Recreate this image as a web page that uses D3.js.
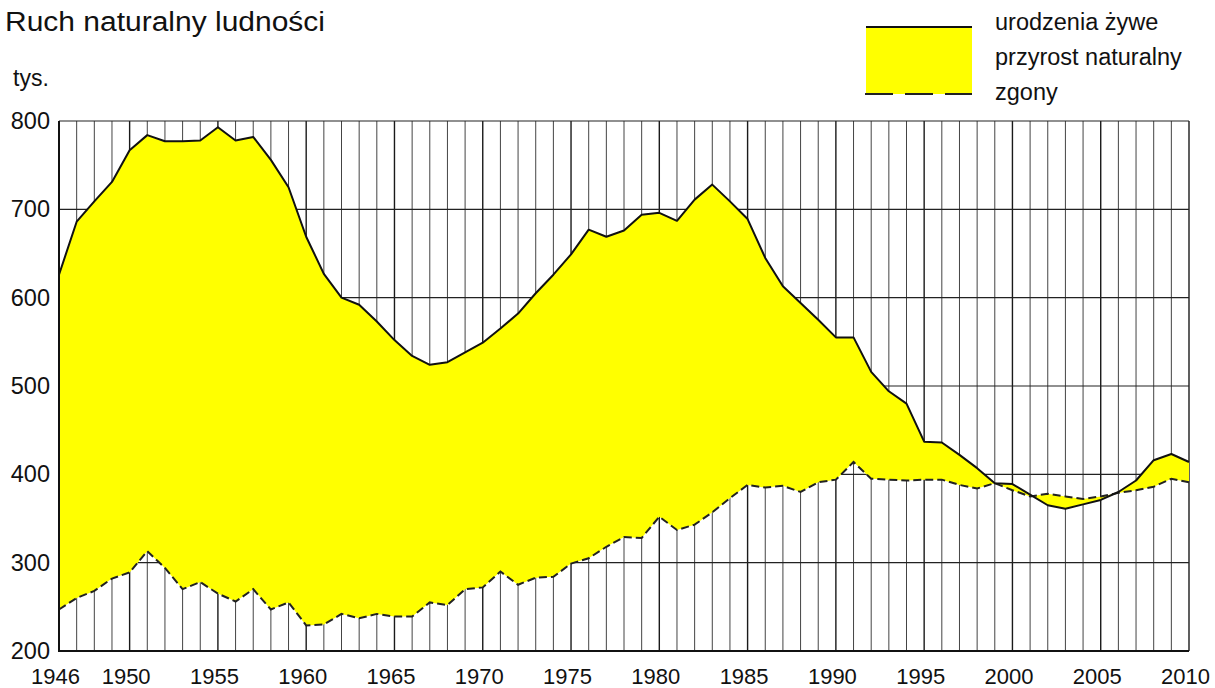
<!DOCTYPE html>
<html>
<head>
<meta charset="utf-8">
<script src="https://cdn.jsdelivr.net/npm/d3@7"></script>
<style>
  body { margin: 0; background: #fff; }
  svg { display: block; font-family: "Liberation Sans", Arial, sans-serif; }
  .grid-year { stroke: #444; stroke-width: 1; }
  .grid-five { stroke: #1a1a1a; stroke-width: 1.4; }
  .grid-h { stroke: #222; stroke-width: 1.2; }
  .area { fill: #ffff00; }
  .births { fill: none; stroke: #111; stroke-width: 2; stroke-linejoin: round; }
  .deaths { fill: none; stroke: #222; stroke-width: 2; stroke-dasharray: 8,4; }
  .tick text { font-family: "Liberation Sans", Arial, sans-serif; font-size: 22px; fill: #111; }
  .y-axis .tick text { font-size: 23.5px; }
</style>
</head>
<body>
<div id="chart"></div>
<script>
// lata 1946-2010
var years = d3.range(1946, 2011);

// urodzenia żywe (tys.)
var births = [626, 686, 709, 731, 767, 784, 777, 777, 778, 793,
              778, 782, 756, 725, 669, 627, 600, 592, 573, 552,
              534, 524, 527, 538, 549, 565, 582, 605, 626, 649,
              677, 669, 676, 694, 696, 687, 711, 728, 709, 689,
              645, 613, 594, 575, 555, 555, 516, 494, 480, 437,
              436, 422, 407, 390, 389, 377, 365, 361, 366, 371,
              380, 393, 416, 423, 414];

// zgony (tys.)
var deaths = [247, 260, 268, 282, 289, 313, 294, 270, 278, 265,
              256, 270, 247, 255, 229, 230, 242, 237, 242, 239,
              239, 255, 252, 270, 272, 290, 275, 283, 284, 299,
              305, 318, 329, 328, 352, 337, 343, 357, 373, 388,
              385, 387, 380, 391, 394, 414, 395, 394, 393, 394,
              394, 388, 384, 390, 382, 375, 378, 375, 372, 375,
              379, 382, 386, 395, 391];

var xTickLabels = [1946, 1950, 1955, 1960, 1965, 1970, 1975, 1980,
                   1985, 1990, 1995, 2000, 2005, 2010];
var yTickLabels = [200, 300, 400, 500, 600, 700, 800];

var legendLabels = ["urodzenia żywe", "przyrost naturalny", "zgony"];

var width = 1215, height = 688;
var plotLeft = 59, plotRight = 1189, plotTop = 121, plotBottom = 651;

var svg = d3.select("#chart").append("svg")
        .attr("width", width)
        .attr("height", height);

var x = d3.scaleLinear().domain([1946, 2010]).range([plotLeft, plotRight]);
var y = d3.scaleLinear().domain([200, 800]).range([plotBottom, plotTop]);

// siatka pionowa (co rok, mocniej co 5 lat)
svg.append("g").selectAll("line")
    .data(years).enter()
    .append("line")
        .attr("class", function(d) { return d % 5 === 0 ? "grid-five" : "grid-year"; })
        .attr("x1", function(d) { return x(d); })
        .attr("x2", function(d) { return x(d); })
        .attr("y1", y(800))
        .attr("y2", y(200));

// siatka pozioma
svg.append("g").selectAll("line")
    .data(yTickLabels).enter()
    .append("line")
        .attr("class", "grid-h")
        .attr("x1", x(1946))
        .attr("x2", x(2010))
        .attr("y1", function(d) { return y(d); })
        .attr("y2", function(d) { return y(d); });

var rows = years.map(function(yr, i) {
    return { year: yr, b: births[i], z: deaths[i] };
});

// obszar między urodzeniami a zgonami
var area = d3.area()
        .x(function(d) { return x(d.year); })
        .y0(function(d) { return y(d.z); })
        .y1(function(d) { return y(d.b); });

svg.append("path")
        .datum(rows)
        .attr("class", "area")
        .attr("d", area);

var birthLine = d3.line()
        .x(function(d) { return x(d.year); })
        .y(function(d) { return y(d.b); });

var deathLine = d3.line()
        .x(function(d) { return x(d.year); })
        .y(function(d) { return y(d.z); });

svg.append("path").datum(rows).attr("class", "deaths").attr("d", deathLine);
svg.append("path").datum(rows).attr("class", "births").attr("d", birthLine);

// ramka: oś lewa i dolna
svg.append("line")
        .attr("x1", plotLeft).attr("x2", plotLeft)
        .attr("y1", plotTop).attr("y2", plotBottom + 1)
        .attr("stroke", "#111").attr("stroke-width", 2);
svg.append("line")
        .attr("x1", plotLeft).attr("x2", plotRight)
        .attr("y1", plotBottom).attr("y2", plotBottom)
        .attr("stroke", "#111").attr("stroke-width", 2);

// opisy osi
var yAxis = d3.axisLeft(y).tickValues(yTickLabels).tickSize(0).tickPadding(9)
        .tickFormat(d3.format("d"));
svg.append("g")
        .attr("class", "y-axis")
        .attr("transform", "translate(" + plotLeft + ",0)")
        .call(yAxis)
        .call(function(g) { g.select(".domain").remove(); });

var xAxis = d3.axisBottom(x).tickValues(xTickLabels).tickSize(0).tickPadding(17)
        .tickFormat(d3.format("d"));
svg.append("g")
        .attr("transform", "translate(-4," + plotBottom + ")")
        .call(xAxis)
        .call(function(g) { g.select(".domain").remove(); });

// tytuł i jednostka
svg.append("text")
        .attr("x", 5).attr("y", 31)
        .attr("font-size", 27)
        .attr("textLength", 320)
        .attr("lengthAdjust", "spacingAndGlyphs")
        .attr("fill", "#111")
        .text("Ruch naturalny ludności");

svg.append("text")
        .attr("x", 13).attr("y", 86)
        .attr("font-size", 23)
        .attr("fill", "#111")
        .text("tys.");

// legenda
var lg = svg.append("g");
lg.append("rect")
        .attr("x", 866).attr("y", 27)
        .attr("width", 106).attr("height", 67)
        .attr("fill", "#ffff00");
lg.append("line")
        .attr("x1", 866).attr("x2", 972).attr("y1", 27).attr("y2", 27)
        .attr("stroke", "#111").attr("stroke-width", 2);
lg.append("line")
        .attr("x1", 865).attr("x2", 972).attr("y1", 94).attr("y2", 94)
        .attr("stroke", "#222").attr("stroke-width", 2)
        .attr("stroke-dasharray", "28,12");

lg.selectAll("text")
    .data(legendLabels).enter()
    .append("text")
        .attr("x", 995)
        .attr("y", function(d, i) { return 30 + i * 35; })
        .attr("font-size", 23.5)
        .attr("fill", "#111")
        .text(function(d) { return d; });
</script>
</body>
</html>
